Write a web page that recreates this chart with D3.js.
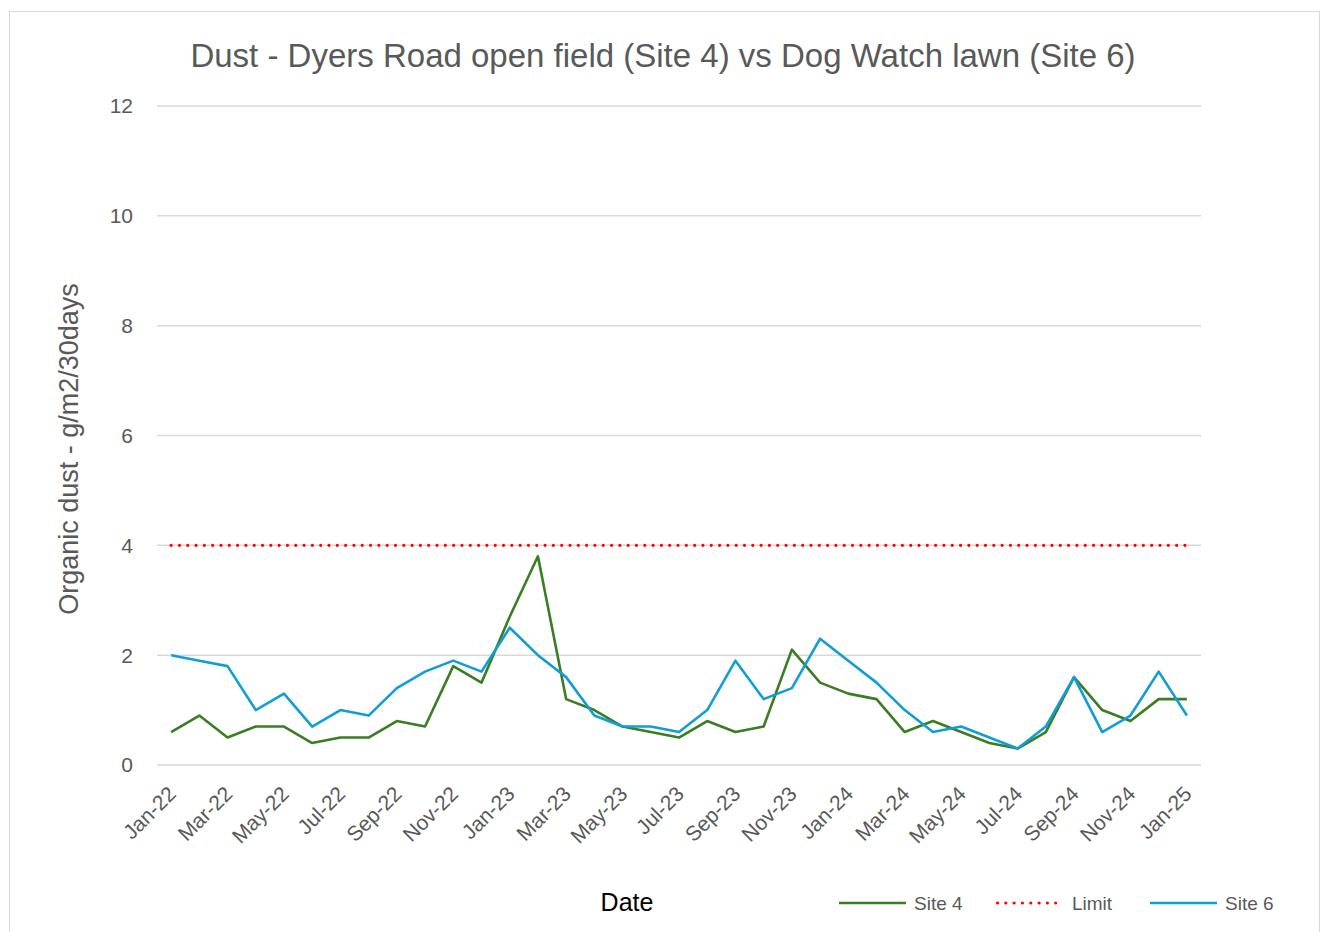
<!DOCTYPE html>
<html>
<head>
<meta charset="utf-8">
<script src="https://cdn.jsdelivr.net/npm/d3@7"></script>
<style>
  body { margin: 0; background: #fff; }
  svg { display: block; }
  text { font-family: "Liberation Sans", Arial, sans-serif; fill: #595959; }
</style>
</head>
<body>
<svg id="chart" width="1320" height="932"></svg>
<script>
// months Jan-22 .. Jan-25
const months = ['Jan-22','Feb-22','Mar-22','Apr-22','May-22','Jun-22','Jul-22','Aug-22','Sep-22','Oct-22','Nov-22','Dec-22',
  'Jan-23','Feb-23','Mar-23','Apr-23','May-23','Jun-23','Jul-23','Aug-23','Sep-23','Oct-23','Nov-23','Dec-23',
  'Jan-24','Feb-24','Mar-24','Apr-24','May-24','Jun-24','Jul-24','Aug-24','Sep-24','Oct-24','Nov-24','Dec-24',
  'Jan-25']

const site4 = [0.6,0.9,0.5,0.7,0.7,0.4,0.5,0.5,0.8,0.7,1.8,1.5,
  2.7,3.8,1.2,1.0,0.7,0.6,0.5,0.8,0.6,0.7,2.1,1.5,
  1.3,1.2,0.6,0.8,0.6,0.4,0.3,0.6,1.6,1.0,0.8,1.2,
  1.2]

const site6 = [2.0,1.9,1.8,1.0,1.3,0.7,1.0,0.9,1.4,1.7,1.9,1.7,
  2.5,2.0,1.6,0.9,0.7,0.7,0.6,1.0,1.9,1.2,1.4,2.3,
  1.9,1.5,1.0,0.6,0.7,0.5,0.3,0.7,1.6,0.6,0.9,1.7,
  0.9]

const limit = months.map(() => 4)
const yTicks = [0, 2, 4, 6, 8, 10, 12]

const colors = { site4: '#3B7D23', site6: '#0F9ED5', limit: '#FF0000' }

const svg = d3.select('#chart')

// outer frame
svg.append('rect')
  .attr('x', 9.5).attr('y', 11.5)
  .attr('width', 1310).attr('height', 940)
  .attr('fill', 'none').attr('stroke', '#D9D9D9').attr('stroke-width', 1)

const x = d3.scalePoint().domain(months).range([157, 1201]).padding(0.5)
const y = d3.scaleLinear().domain([0, 12]).range([765, 106])

// gridlines
svg.append('g').selectAll('line')
  .data(yTicks).enter()
  .append('line')
    .attr('x1', 157).attr('x2', 1201)
    .attr('y1', d => y(d)).attr('y2', d => y(d))
    .attr('stroke', '#D9D9D9').attr('stroke-width', 1.5)

// y labels
svg.append('g').selectAll('text')
  .data(yTicks).enter()
  .append('text')
    .attr('x', 133).attr('y', d => y(d))
    .attr('dy', '0.35em')
    .attr('text-anchor', 'end')
    .style('font-size', '21px')
    .text(d => d)

// x labels, every second month
svg.append('g').selectAll('text')
  .data(months.filter((m, i) => i % 2 === 0)).enter()
  .append('text')
    .attr('transform', d => `translate(${x(d) + 1},${790}) rotate(-45)`)
    .attr('text-anchor', 'end')
    .attr('dy', '0.35em')
    .style('font-size', '21px')
    .text(d => d)

const line = d3.line()
  .x((d, i) => x(months[i]))
  .y(d => y(d))

svg.append('path').datum(site4)
  .attr('d', line)
  .attr('fill', 'none').attr('stroke', colors.site4).attr('stroke-width', 2.6)
  .attr('stroke-linejoin', 'round')

svg.append('path').datum(limit)
  .attr('d', line)
  .attr('fill', 'none').attr('stroke', colors.limit).attr('stroke-width', 3.2)
  .attr('stroke-linecap', 'round')
  .attr('stroke-dasharray', '0.01,8.3')

svg.append('path').datum(site6)
  .attr('d', line)
  .attr('fill', 'none').attr('stroke', colors.site6).attr('stroke-width', 2.6)
  .attr('stroke-linejoin', 'round')

// title
svg.append('text')
  .attr('x', 663).attr('y', 67)
  .attr('text-anchor', 'middle')
  .style('font-size', '33px')
  .text('Dust - Dyers Road open field (Site 4) vs Dog Watch lawn (Site 6)')

// axis titles
svg.append('text')
  .attr('transform', 'translate(78,449) rotate(-90)')
  .attr('text-anchor', 'middle')
  .style('font-size', '27px')
  .text('Organic dust - g/m2/30days')

svg.append('text')
  .attr('x', 627).attr('y', 911)
  .attr('text-anchor', 'middle')
  .style('font-size', '25px')
  .style('fill', '#000')
  .text('Date')

// legend
const legend = [
  { name: 'Site 4', color: colors.site4, x: 839, dash: null },
  { name: 'Limit', color: colors.limit, x: 996, dash: '0.01,8.3' },
  { name: 'Site 6', color: colors.site6, x: 1150, dash: null }
]
const lg = svg.append('g').selectAll('g')
  .data(legend).enter()
  .append('g')
    .attr('transform', d => `translate(${d.x},903)`)
lg.append('line')
  .attr('x1', d => d.dash ? 1.5 : 0).attr('x2', 67)
  .attr('stroke', d => d.color)
  .attr('stroke-width', d => d.dash ? 3.2 : 2.6)
  .attr('stroke-linecap', d => d.dash ? 'round' : 'butt')
  .attr('stroke-dasharray', d => d.dash)
lg.append('text')
  .attr('x', d => d.dash ? 76 : 75)
  .attr('dy', '0.35em')
  .style('font-size', '19px')
  .text(d => d.name)
</script>
</body>
</html>
